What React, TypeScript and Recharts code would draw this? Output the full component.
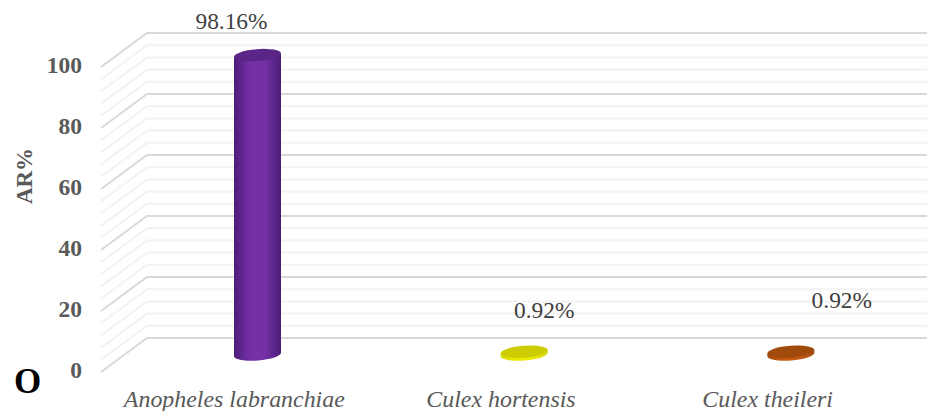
import { BarChart, Bar, XAxis, YAxis, CartesianGrid, LabelList } from "recharts"

const species = ["Anopheles labranchiae", "Culex hortensis", "Culex theileri"]
const values = [98.16, 0.92, 0.92]
const yTicks = [0, 4, 8, 12, 16, 20, 24, 28, 32, 36, 40, 44, 48, 52, 56, 60, 64, 68, 72, 76, 80, 84, 88, 92, 96, 100]
const sideColors = [
  ["#4d1e78", "#7530a8", "#4d1e78"],
  ["#d8d800", "#ecec00", "#d8d800"],
  ["#a84c10", "#c55a11", "#a84c10"],
]
const topColors = ["#5a2587", "#cccc00", "#a04a0c"]
const labelDx = [-26, 20, 51]
const labelBaseline = [29, 318, 308]

const data = species.map((name, i) => ({ name, value: values[i] }))

const FONT = "'Liberation Serif', serif"
// pseudo 3d offsets: the bars sit half way between the back wall and the floor edge
const DEPTH_X = 23
const DEPTH_Y = 34
const BAR_DY = 16.5

function GridLine(props: any) {
  const { x1, x2, y1, index } = props
  const major = yTicks[index] % 20 === 0
  return (
    <path
      d={`M${x1 - DEPTH_X} ${y1 + DEPTH_Y} L${x1 + DEPTH_X} ${y1} L${x2 + 3} ${y1}`}
      fill="none"
      stroke={major ? "#d9d9d9" : "#f2f2f2"}
      strokeWidth={2}
    />
  )
}

function YTick({ y, payload }: any) {
  if (payload.value % 20 !== 0) return null
  return (
    <text x={82} y={y + 40} textAnchor="end" fontFamily={FONT} fontSize={23.5} fontWeight="bold" fill="#595959">
      {payload.value}
    </text>
  )
}

function XTick({ x, payload }: any) {
  return (
    <text x={x - DEPTH_X} y={407} textAnchor="middle" fontFamily={FONT} fontSize={23.9} fontStyle="italic" fill="#595959">
      {payload.value}
    </text>
  )
}

function Cylinder({ x, y, width, height, index }: any) {
  const cx = x + width / 2
  const rx = width / 2
  const ry = 6
  const top = y + BAR_DY
  const bottom = top + height
  const tilt = 4.5
  const id = `side-${index}`
  const [edge, mid] = sideColors[index]
  const lift = rx * Math.tan((tilt * Math.PI) / 180)
  return (
    <g>
      <defs>
        <linearGradient id={id} x1="0" y1="0" x2="1" y2="0">
          <stop offset="0" stopColor={edge} />
          <stop offset="0.35" stopColor={mid} />
          <stop offset="0.65" stopColor={mid} />
          <stop offset="1" stopColor={edge} />
        </linearGradient>
      </defs>
      <path
        d={`M${x} ${top + lift} L${x + width} ${top - lift} L${x + width} ${bottom - lift} A${rx} ${ry} ${-tilt} 0 1 ${x} ${bottom + lift} Z`}
        fill={`url(#${id})`}
      />
      <ellipse cx={cx} cy={top} rx={rx} ry={ry} fill={topColors[index]} transform={`rotate(${-tilt} ${cx} ${top})`} />
    </g>
  )
}

function ValueLabel({ x, width, value, index }: any) {
  return (
    <text
      x={x + width / 2 + labelDx[index]}
      y={labelBaseline[index]}
      textAnchor="middle"
      fontFamily={FONT}
      fontSize={23.4}
      fill="#404040"
    >
      {`${value.toFixed(2)}%`}
    </text>
  )
}

export default function App() {
  return (
    <div style={{ position: "absolute", left: 0, top: 0, width: 929, height: 411, background: "#fff", overflow: "hidden" }}>
      <BarChart width={929} height={411} data={data} margin={{ top: 33, right: 5, left: 0, bottom: 0 }}>
        <CartesianGrid vertical={false} horizontal={GridLine as any} />
        <XAxis dataKey="name" height={73} axisLine={false} tickLine={false} interval={0} tick={XTick as any} />
        <YAxis
          width={124}
          domain={[0, 100]}
          ticks={yTicks}
          interval={0}
          axisLine={false}
          tickLine={false}
          tick={YTick as any}
        />
        <Bar dataKey="value" barSize={47} isAnimationActive={false} shape={Cylinder as any}>
          <LabelList dataKey="value" content={ValueLabel as any} />
        </Bar>
        <text
          transform="translate(32 176) rotate(-90)"
          textAnchor="middle"
          fontFamily={FONT}
          fontSize={23}
          fontWeight="bold"
          fill="#595959"
        >
          AR%
        </text>
        <text x={14} y={393} fontFamily={FONT} fontSize={35} fontWeight="bold" fill="#000">
          O
        </text>
      </BarChart>
    </div>
  )
}
